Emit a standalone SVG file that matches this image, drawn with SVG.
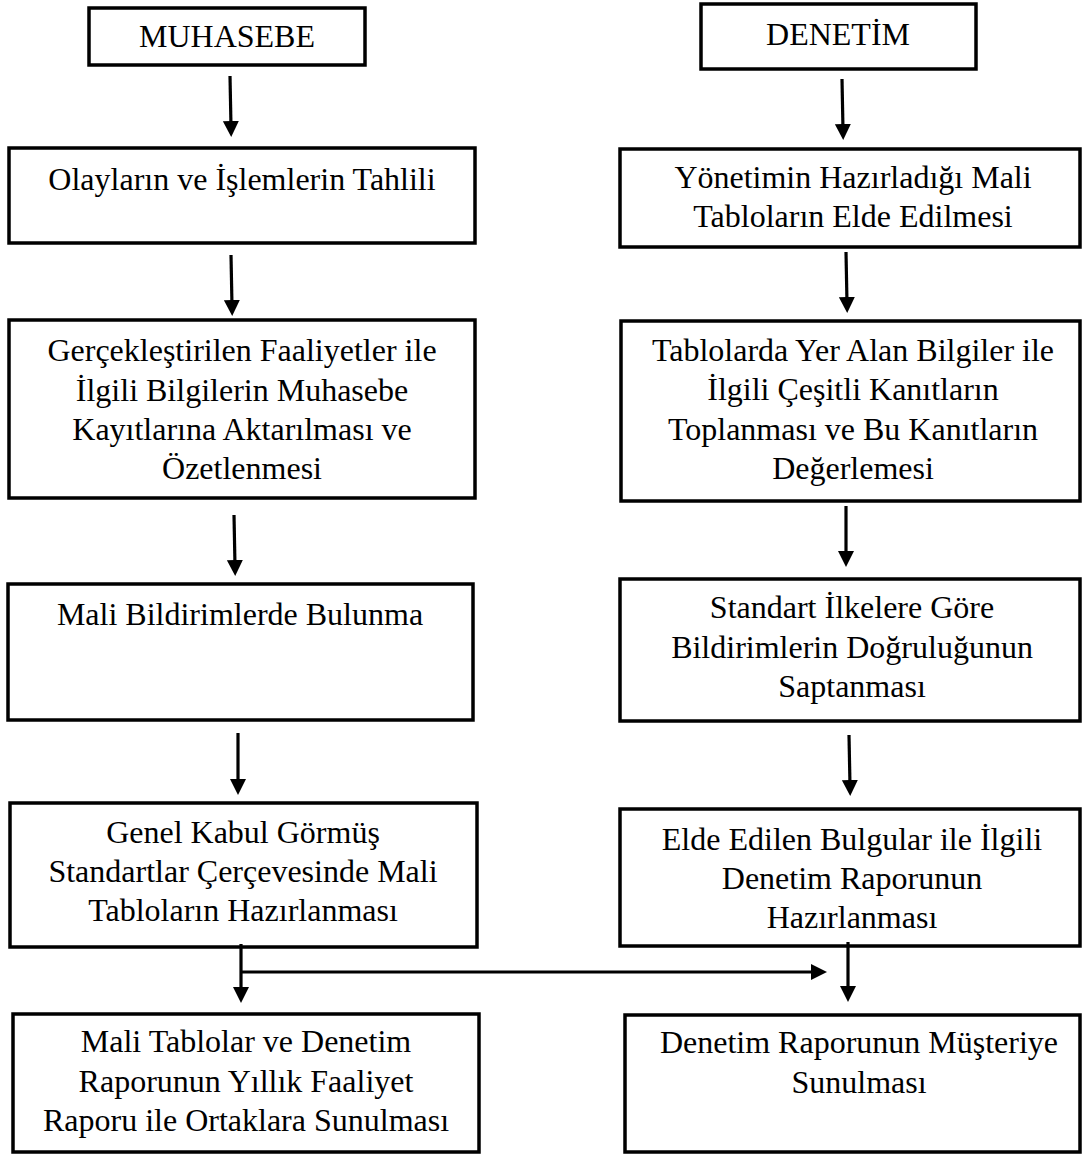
<svg xmlns="http://www.w3.org/2000/svg" width="1083" height="1154" viewBox="0 0 1083 1154">
  <style>
    .box { fill: #ffffff; stroke: #000000; stroke-width: 3.5; }
    .lbl { font-family: 'Liberation Serif', 'DejaVu Serif', serif; font-size: 32px; fill: #000000; text-anchor: middle; }
    .conn { stroke: #000000; stroke-width: 3.2; fill: none; marker-end: url(#head); }
  </style>
  <defs>
    <marker id="head" markerUnits="userSpaceOnUse" markerWidth="18" markerHeight="18" refX="6" refY="8" orient="auto">
      <path d="M0,0 L16,8 L0,16 Z" fill="#000000"/>
    </marker>
  </defs>
  <rect width="1083" height="1154" fill="#ffffff"/>

  <!-- left column: accounting -->
  <g id="muhasebe">
    <rect class="box" x="89" y="8" width="276" height="57"/>
    <text class="lbl" x="227" y="47">MUHASEBE</text>
  </g>
  <g id="olaylar">
    <rect class="box" x="9" y="148" width="466" height="95"/>
    <text class="lbl" x="242" y="190">Olayların ve İşlemlerin Tahlili</text>
  </g>
  <g id="kayit">
    <rect class="box" x="9" y="320" width="466" height="178"/>
    <text class="lbl" x="242" y="361">Gerçekleştirilen Faaliyetler ile</text>
    <text class="lbl" x="242" y="401">İlgili Bilgilerin Muhasebe</text>
    <text class="lbl" x="242" y="440">Kayıtlarına Aktarılması ve</text>
    <text class="lbl" x="242" y="479">Özetlenmesi</text>
  </g>
  <g id="bildirim">
    <rect class="box" x="8" y="584" width="465" height="136"/>
    <text class="lbl" x="240" y="625">Mali Bildirimlerde Bulunma</text>
  </g>
  <g id="hazirlama">
    <rect class="box" x="10" y="803" width="467" height="144"/>
    <text class="lbl" x="243" y="843">Genel Kabul Görmüş</text>
    <text class="lbl" x="243" y="882">Standartlar Çerçevesinde Mali</text>
    <text class="lbl" x="243" y="921">Tabloların Hazırlanması</text>
  </g>
  <g id="sunum-ortaklar">
    <rect class="box" x="13" y="1014" width="466" height="138"/>
    <text class="lbl" x="246" y="1052">Mali Tablolar ve Denetim</text>
    <text class="lbl" x="246" y="1092">Raporunun Yıllık Faaliyet</text>
    <text class="lbl" x="246" y="1131">Raporu ile Ortaklara Sunulması</text>
  </g>

  <!-- right column: auditing -->
  <g id="denetim">
    <rect class="box" x="701" y="4" width="275" height="65"/>
    <text class="lbl" x="838" y="45">DENETİM</text>
  </g>
  <g id="elde-edilmesi">
    <rect class="box" x="620" y="149" width="460" height="98"/>
    <text class="lbl" x="853" y="188">Yönetimin Hazırladığı Mali</text>
    <text class="lbl" x="853" y="227">Tabloların Elde Edilmesi</text>
  </g>
  <g id="kanitlar">
    <rect class="box" x="621" y="321" width="459" height="180"/>
    <text class="lbl" x="853" y="361">Tablolarda Yer Alan Bilgiler ile</text>
    <text class="lbl" x="853" y="400">İlgili Çeşitli Kanıtların</text>
    <text class="lbl" x="853" y="440">Toplanması ve Bu Kanıtların</text>
    <text class="lbl" x="853" y="479">Değerlemesi</text>
  </g>
  <g id="dogruluk">
    <rect class="box" x="620" y="579" width="460" height="142"/>
    <text class="lbl" x="852" y="618">Standart İlkelere Göre</text>
    <text class="lbl" x="852" y="658">Bildirimlerin Doğruluğunun</text>
    <text class="lbl" x="852" y="697">Saptanması</text>
  </g>
  <g id="rapor">
    <rect class="box" x="620" y="809" width="460" height="137"/>
    <text class="lbl" x="852" y="850">Elde Edilen Bulgular ile İlgili</text>
    <text class="lbl" x="852" y="889">Denetim Raporunun</text>
    <text class="lbl" x="852" y="928">Hazırlanması</text>
  </g>
  <g id="sunum-musteri">
    <rect class="box" x="625" y="1015" width="455" height="137"/>
    <text class="lbl" x="859" y="1053">Denetim Raporunun Müşteriye</text>
    <text class="lbl" x="859" y="1093">Sunulması</text>
  </g>

  <!-- connectors -->
  <g id="connectors">
    <line class="conn" x1="230" y1="76" x2="231" y2="127"/>
    <line class="conn" x1="231" y1="255" x2="232" y2="306"/>
    <line class="conn" x1="234" y1="515" x2="235" y2="566"/>
    <line class="conn" x1="238" y1="733" x2="238" y2="785"/>
    <line class="conn" x1="241" y1="944" x2="241" y2="993"/>
    <line class="conn" x1="241" y1="972" x2="817" y2="972"/>

    <line class="conn" x1="842" y1="79" x2="843" y2="130"/>
    <line class="conn" x1="846" y1="252" x2="847" y2="303"/>
    <line class="conn" x1="846" y1="506" x2="846" y2="557"/>
    <line class="conn" x1="849" y1="735" x2="850" y2="786"/>
    <line class="conn" x1="848" y1="942" x2="848" y2="992"/>
  </g>
</svg>
